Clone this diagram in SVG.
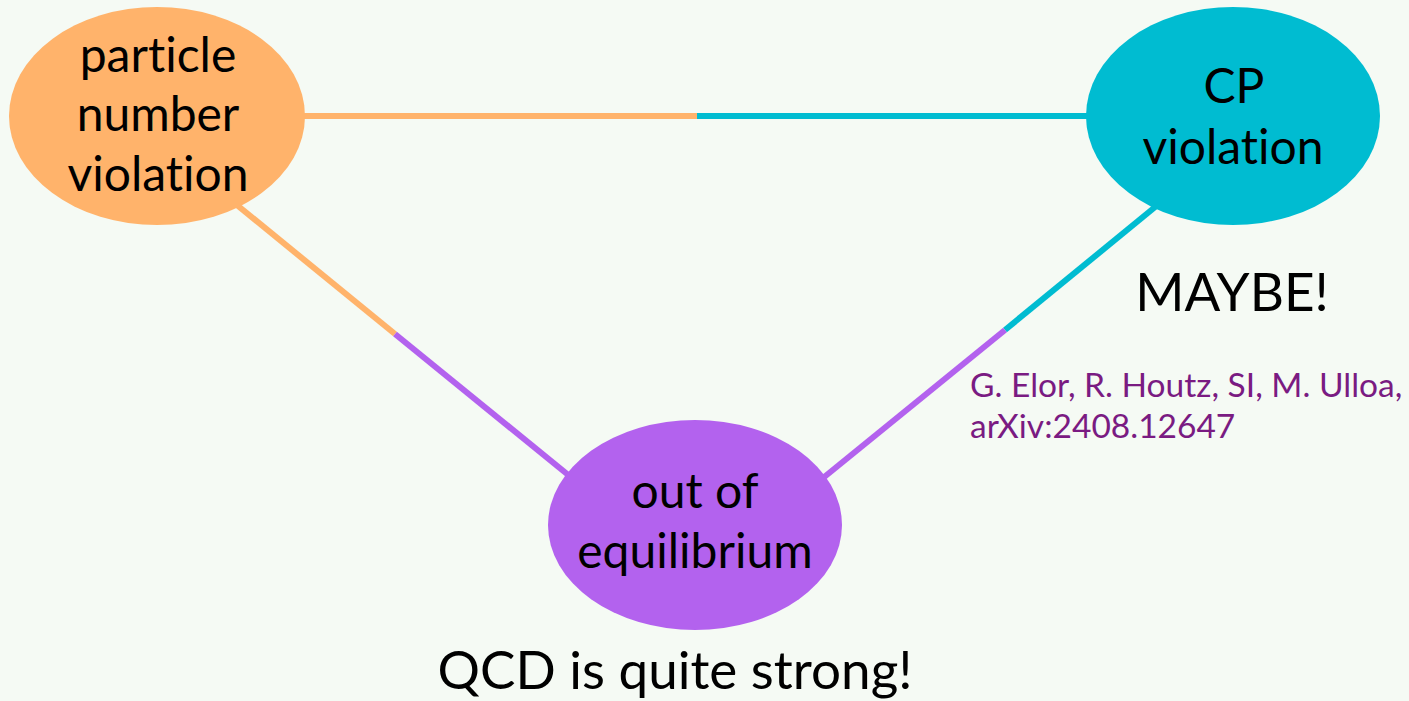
<svg xmlns="http://www.w3.org/2000/svg" width="1409" height="701" viewBox="0 0 1409 701">
  <style>
    text { font-variant-ligatures: none; font-feature-settings: "liga" 0, "dlig" 0; }
    .lbl { font-family: Lato, "Open Sans", sans-serif; fill: #000; text-anchor: middle; }
    .node { font-size: 48px; }
    .note { font-size: 53px; }
    .cite { font-family: Lato, "Open Sans", sans-serif; font-size: 33.5px; fill: #7A1B82; }
    .ln { stroke-width: 6; fill: none; stroke-linecap: butt; }
  </style>
  <rect x="0" y="0" width="1409" height="701" fill="#F5FAF4"/>
  <g id="connectors">
    <line class="ln" x1="290" y1="116" x2="697" y2="116" stroke="#FFB36B"/>
    <line class="ln" x1="697" y1="116" x2="1095" y2="116" stroke="#00BCD1"/>
    <line class="ln" x1="232" y1="201" x2="395" y2="334" stroke="#FFB36B"/>
    <line class="ln" x1="395" y1="334" x2="572" y2="478" stroke="#B362EE"/>
    <line class="ln" x1="1160" y1="203" x2="1005" y2="330" stroke="#00BCD1"/>
    <line class="ln" x1="1005" y1="330" x2="823" y2="478" stroke="#B362EE"/>
  </g>
  <g id="node-particle">
    <ellipse cx="157" cy="116" rx="148" ry="109" fill="#FFB36B"/>
    <text class="lbl node" x="158" y="72">particle</text>
    <text class="lbl node" x="158" y="131">number</text>
    <text class="lbl node" x="158" y="191">violation</text>
  </g>
  <g id="node-cp">
    <ellipse cx="1233" cy="116" rx="147" ry="109" fill="#00BCD1"/>
    <text class="lbl node" x="1234" y="103">CP</text>
    <text class="lbl node" x="1233" y="164">violation</text>
  </g>
  <g id="node-equilibrium">
    <ellipse cx="695" cy="525" rx="147" ry="105" fill="#B362EE"/>
    <text class="lbl node" x="695" y="508">out of</text>
    <text class="lbl node" x="695" y="568">equilibrium</text>
  </g>
  <g id="annotations">
    <text class="lbl note" x="1232" y="311">MAYBE!</text>
    <text class="lbl note" x="675" y="689">QCD is quite strong!</text>
    <text class="cite" x="970" y="397">G. Elor, R. Houtz, SI, M. Ulloa,</text>
    <text class="cite" x="970" y="438">arXiv:2408.12647</text>
  </g>
</svg>
